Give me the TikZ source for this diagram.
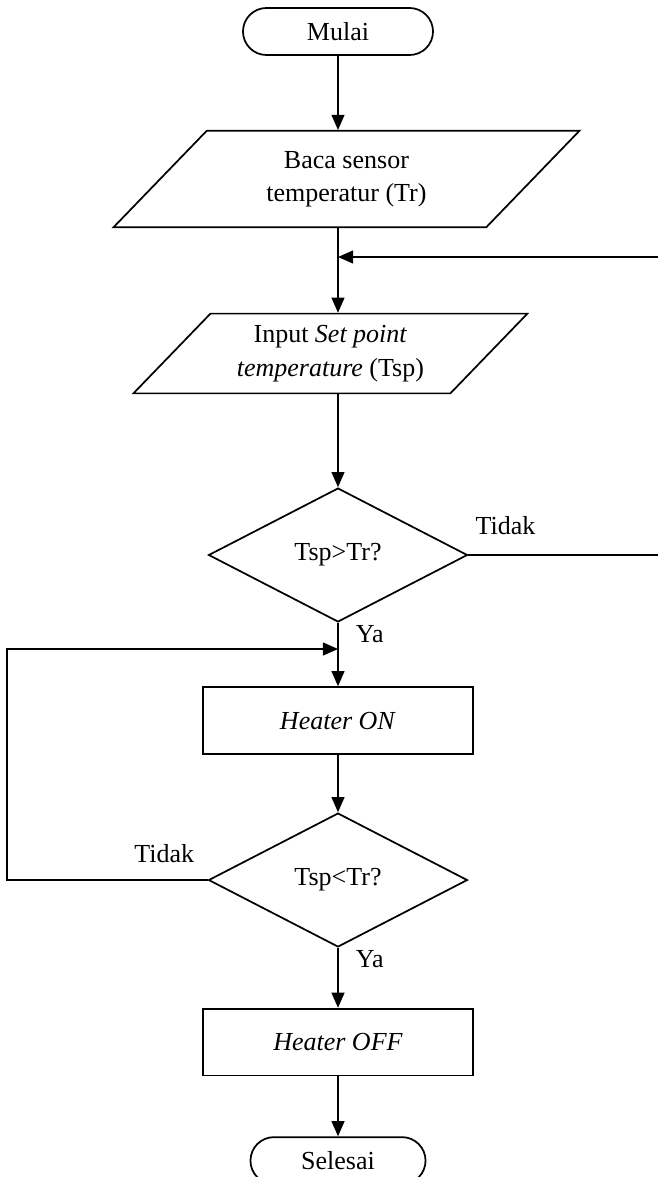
\documentclass[tikz,border=0pt]{standalone}
\usepackage{fontspec}
\setmainfont{Liberation Serif}
\usetikzlibrary{arrows.meta,shapes.geometric,shapes.misc,positioning}
\tikzset{arrows={-{Triangle[length=7pt,width=6pt]}}}
\tikzset{
  terminal/.style={draw, rounded rectangle, line width=0.8pt, minimum height=21.7pt, inner sep=0pt},
  io/.style={draw, trapezium, trapezium left angle=46, trapezium right angle=134,
    trapezium stretches body, line width=0.8pt, align=center, inner xsep=0pt},
  process/.style={draw, rectangle, line width=0.8pt, minimum width=124.6pt, minimum height=30.9pt, inner sep=0pt},
  decision/.style={draw, diamond, aspect=1.93, line width=0.8pt, minimum width=119.5pt, minimum height=61.8pt, inner sep=0pt},
  lbl/.style={inner sep=0pt}
}
\begin{document}
\begin{tikzpicture}[x=0.4615pt, y=0.4615pt, node distance=75pt, line width=0.6pt, font=\fontsize{12}{15.5}\selectfont]
    \useasboundingbox (0,0) rectangle (658,-1177);
    \node[terminal, minimum width=87.7pt] (mulai) at (338,-31.5) {Mulai};
    \node[io, minimum width=215pt, inner ysep=9.3pt] (baca) [below of = mulai, node distance=68.1pt, xshift=3.9pt] {Baca sensor\\temperatur (Tr)};
    \node[io, minimum width=181.8pt, inner ysep=5.4pt] (input) [below of = baca, node distance=80.5pt, xshift=-7.4pt] {Input \textit{Set point}\\\textit{temperature} (Tsp)};
    \node[decision] (cek1) [below of = input, node distance=93pt, xshift=3.5pt] {Tsp>Tr?};
    \node[process] (on) [below of = cek1, node distance=76.4pt] {\textit{Heater ON}};
    \node[decision] (cek2) [below of = on, node distance=73.6pt] {Tsp<Tr?};
    \node[process] (off) [below of = cek2, node distance=74.8pt] {\textit{Heater OFF}};
    \node[terminal, minimum width=80.8pt] (selesai) [below of = off, node distance=54.7pt] {Selesai};
    \coordinate (kanan) at (661,-257);
    \coordinate (kiri) at (7,-649);
    \draw (mulai.south) -- (mulai |- baca.north);
    \draw (baca.south -| mulai) -- (input.north -| mulai);
    \draw (input.south -| mulai) -- (cek1.north);
    \draw (cek1.south) -- node[lbl, right=8pt, pos=0.18] (ya1) {Ya} (on.north);
    \draw (on.south) -- (cek2.north);
    \draw (cek2.south) -- node[lbl, right=8pt, pos=0.18] (ya2) {Ya} (off.north);
    \draw (off.south) -- (selesai.north);
    \draw (cek1.east) -- node[lbl, above=9.2pt, pos=0.193] (tidak1) {Tidak} (cek1.east -| kanan)
          -- (kanan) -- (kanan -| mulai);
    \draw (cek2.west) -- node[lbl, above=7.8pt, pos=0.216] (tidak2) {Tidak} (cek2.west -| kiri)
          -- (kiri) -- (kiri -| mulai);
\end{tikzpicture}
\end{document}
